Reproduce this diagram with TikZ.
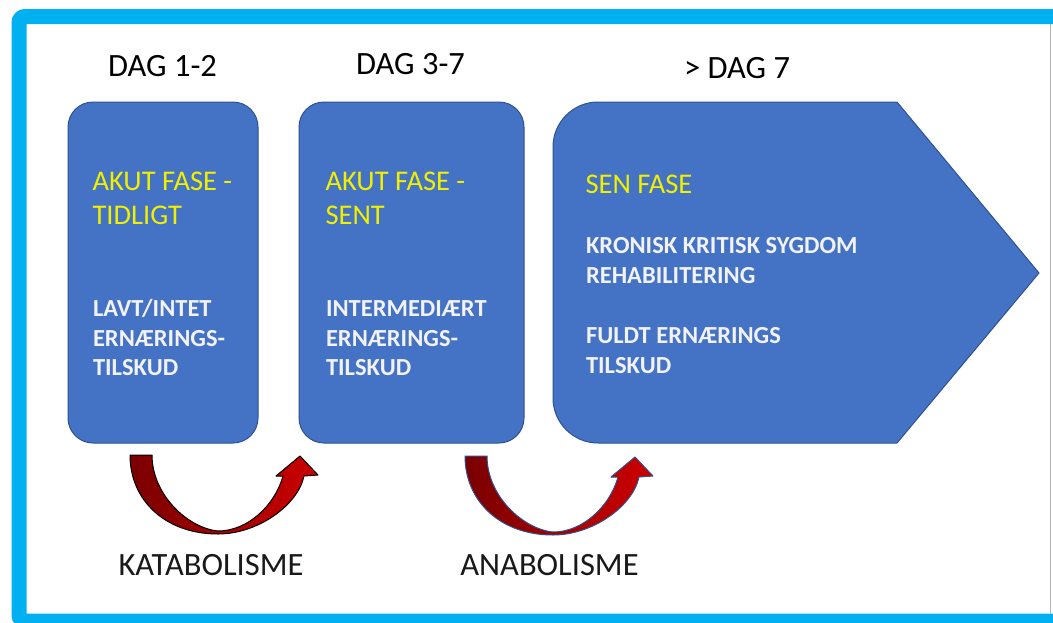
\documentclass[tikz,border=0pt]{standalone}
\usepackage{fontspec}
\setmainfont{Carlito}
\begin{document}
\begin{tikzpicture}[x=1pt,y=-1pt,
  phasebox/.style={fill=boxblue,draw=boxedge,line width=1pt},
  daylabel/.style={anchor=base,text=black,font=\fontsize{32.5}{38}\selectfont},
  phasetitle/.style={anchor=base west,text=phaseyellow,font=\fontsize{28.5}{34}\selectfont},
  phasetext/.style={anchor=base west,text=white!95!black,font=\bfseries\fontsize{24.5}{30}\selectfont},
  metlabel/.style={anchor=base,text=black!90,font=\fontsize{32.5}{38}\selectfont},
  cyclearrow/.style={left color=arrowdark,right color=arrowlight,line width=1pt,line join=round}
]
\definecolor{framecyan}{HTML}{00B0F0}
\definecolor{boxblue}{HTML}{4472C4}
\definecolor{boxedge}{HTML}{2F528F}
\definecolor{phaseyellow}{HTML}{F0F000}
\definecolor{arrowdark}{HTML}{7A0000}
\definecolor{arrowlight}{HTML}{CC0000}

\useasboundingbox (0,0) rectangle (1053,622);
\clip (0,0) rectangle (1053,622);
\fill[white] (0,0) rectangle (1053,622);

% outer frame
\draw[framecyan,line width=15pt,rounded corners=6pt] (19,16.5) rectangle (1075,621);
\draw[black!30,line width=1.5pt] (1050.5,24) -- (1050.5,613);

% phase boxes
\draw[phasebox,rounded corners=25pt] (68,102) rectangle (258,443);
\draw[phasebox,rounded corners=25pt] (299,102) rectangle (524,443);
\draw[phasebox] (897,102) -- (598,102)
  .. controls (573.2,102) and (553,122.2) .. (553,147)
  -- (553,398)
  .. controls (553,422.8) and (573.2,443) .. (598,443)
  -- (897,443) -- (1039,273) -- cycle;

% day headings
\node[daylabel] (d1) at (162.5,76) {DAG 1-2};
\node[daylabel] (d2) at (410.5,74) {DAG 3-7};
\node[daylabel] (d3) at (737,78) {> DAG 7};

% box 1 text
\node[phasetitle] (t1a) at (89,190) {AKUT FASE -};
\node[phasetitle] (t1b) at (89,224) {TIDLIGT};
\node[phasetext] (b1a) at (89.5,316) {LAVT/INTET};
\node[phasetext] (b1b) at (89.5,346) {ERNÆRINGS-};
\node[phasetext] (b1c) at (89.5,375) {TILSKUD};

% box 2 text
\node[phasetitle] (t2a) at (322,190) {AKUT FASE -};
\node[phasetitle] (t2b) at (322,224) {SENT};
\node[phasetext] (b2a) at (322.5,316) {INTERMEDIÆRT};
\node[phasetext] (b2b) at (322.5,346) {ERNÆRINGS-};
\node[phasetext] (b2c) at (322.5,375) {TILSKUD};

% box 3 text
\node[phasetitle] (t3a) at (582,193) {SEN FASE};
\node[phasetext] (b3a) at (582.5,253) {KRONISK KRITISK SYGDOM};
\node[phasetext] (b3b) at (582.5,283) {REHABILITERING};
\node[phasetext] (b3c) at (582.5,343) {FULDT ERNÆRINGS};
\node[phasetext] (b3d) at (582.5,373) {TILSKUD};

% curved up arrows
\newcommand{\uarrowpath}{%
  (130,455) -- (152,455)
  .. controls (152,495) and (188,528) .. (218,531)
  .. controls (248,531) and (275,505) .. (283,476)
  -- (276,476) -- (300,456) -- (318,475) -- (304,476)
  .. controls (298,505) and (258,534) .. (218,534)
  .. controls (165,534) and (130,500) .. (130,455) -- cycle}
\draw[cyclearrow,draw=black] \uarrowpath;
\begin{scope}[shift={(335,1)}]
  \draw[cyclearrow,draw=boxedge] \uarrowpath;
\end{scope}

% metabolism labels
\node[metlabel] (kat) at (211,575) {KATABOLISME};
\node[metlabel] (ana) at (549.5,575) {ANABOLISME};
\end{tikzpicture}
\end{document}
